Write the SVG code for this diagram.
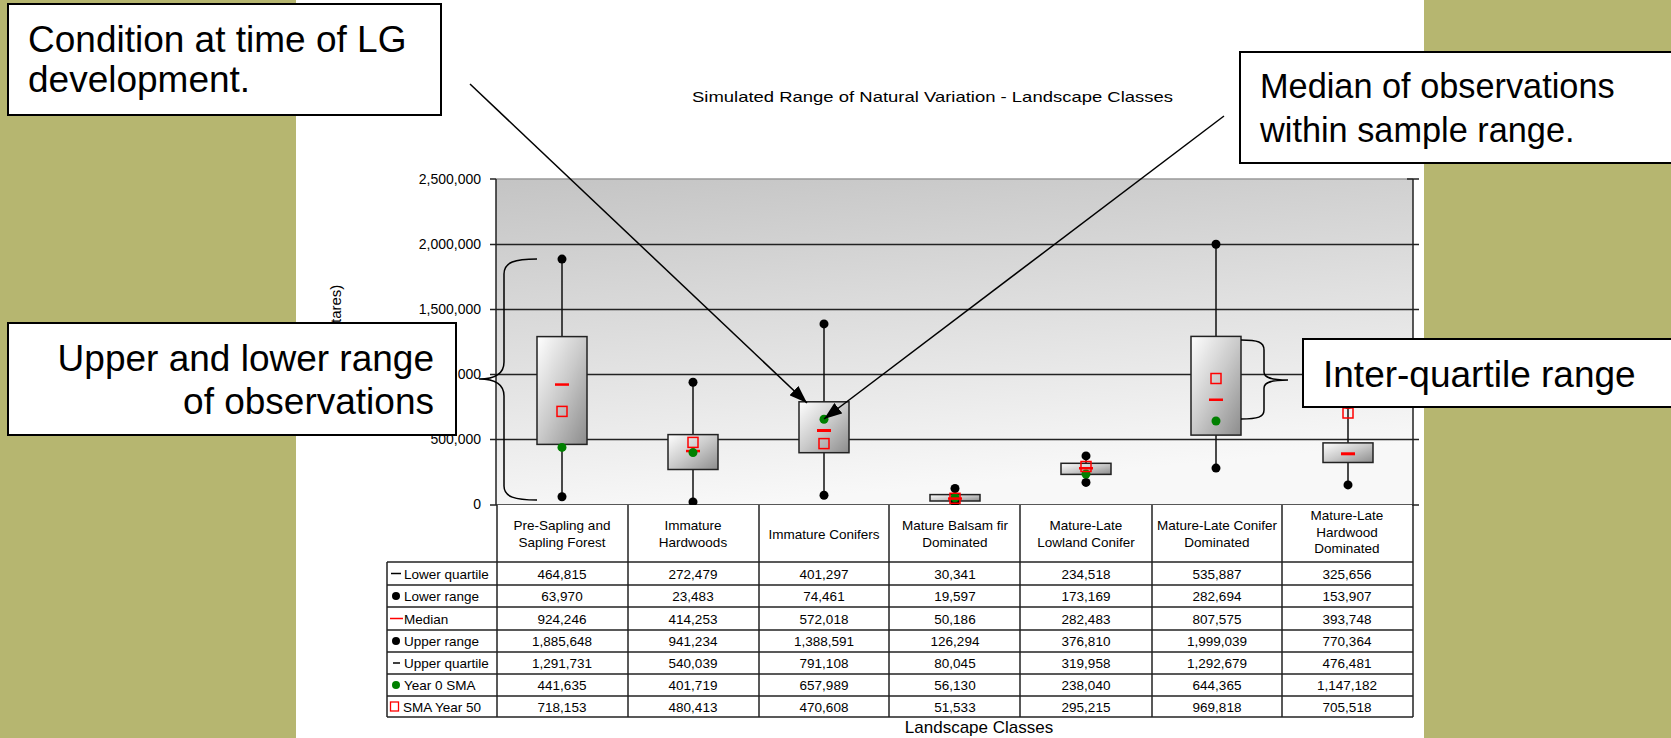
<svg xmlns="http://www.w3.org/2000/svg" width="1671" height="738" viewBox="0 0 1671 738">
<defs>
<style>
.call{fill:#fff;stroke:#000;stroke-width:2}
.ct{font-family:"Liberation Sans",Arial,sans-serif;font-size:37px;fill:#000}
.ct2{font-family:"Liberation Sans",Arial,sans-serif;font-size:34.3px;fill:#000}
.ch{font-family:"Liberation Sans",Arial,sans-serif;fill:#000}
.tv{font-family:"Liberation Sans",Arial,sans-serif;font-size:13.5px;fill:#000;text-anchor:middle}
.tl{font-family:"Liberation Sans",Arial,sans-serif;font-size:13.5px;fill:#000}
.yl{font-family:"Liberation Sans",Arial,sans-serif;font-size:14px;fill:#000;text-anchor:end}
.grid{stroke:#222;stroke-width:1.5}
.tab{stroke:#222;stroke-width:1.5;fill:none}
.wh{stroke:#111;stroke-width:1.5}
.bx{fill:url(#boxg);stroke:#222;stroke-width:1.5}
.rng{fill:#000}
.med{fill:#f00}
.y0{fill:#008000}
.y50{fill:none;stroke:#f00;stroke-width:1.5}
.con{stroke:#000;stroke-width:1.5;fill:none}
</style>
<linearGradient id="plotg" x1="0" y1="0" x2="0.25" y2="1">
<stop offset="0" stop-color="#c4c4c4"/>
<stop offset="1" stop-color="#f8f8f8"/>
</linearGradient>
<linearGradient id="boxg" x1="0" y1="0" x2="1" y2="1">
<stop offset="0" stop-color="#ffffff"/>
<stop offset="0.5" stop-color="#cacaca"/>
<stop offset="1" stop-color="#8c8c8c"/>
</linearGradient>
<marker id="arr" markerUnits="userSpaceOnUse" markerWidth="18" markerHeight="13" refX="18" refY="6.5" orient="auto">
<path d="M0,0 L18,6.5 L0,13 z" fill="#000"/>
</marker>
</defs>

<!-- background -->
<rect x="0" y="0" width="1671" height="738" fill="#ffffff"/>
<rect x="0" y="0" width="296" height="738" fill="#b6b670"/>
<rect x="1424" y="0" width="247" height="738" fill="#b6b670"/>

<g id="chart">
<text class="ch" x="692" y="102" font-size="15" textLength="481" lengthAdjust="spacingAndGlyphs">Simulated Range of Natural Variation - Landscape Classes</text>
<rect x="496" y="179" width="917" height="326" fill="url(#plotg)"/>
<line x1="496" y1="179" x2="1413" y2="179" stroke="#999" stroke-width="1.5"/>
<g class="grid">
<line x1="490" y1="244.5" x2="1419" y2="244.5"/>
<line x1="490" y1="309.5" x2="1419" y2="309.5"/>
<line x1="490" y1="374.5" x2="1419" y2="374.5"/>
<line x1="490" y1="439.5" x2="1419" y2="439.5"/>
<line x1="490" y1="505" x2="1419" y2="505"/>
<line x1="490" y1="179" x2="496" y2="179"/>
<line x1="1407" y1="179" x2="1419" y2="179"/>
<line x1="496" y1="179" x2="496" y2="505"/>
<line x1="1413" y1="179" x2="1413" y2="505"/>
</g>
<g id="ylabels">
<text class="yl" x="481" y="184">2,500,000</text>
<text class="yl" x="481" y="249">2,000,000</text>
<text class="yl" x="481" y="314">1,500,000</text>
<text class="yl" x="481" y="379">000</text>
<text class="yl" x="481" y="444">500,000</text>
<text class="yl" x="481" y="509">0</text>
</g>
<text class="ch" font-size="15" transform="translate(341,323) rotate(-90)">tares)</text>
<text class="ch" x="979" y="733" font-size="17" text-anchor="middle">Landscape Classes</text>
</g>

<g id="box1">
<line class="wh" x1="562" y1="259.1" x2="562" y2="496.7"/>
<rect class="bx" x="537" y="336.6" width="50" height="107.8"/>
<circle class="rng" cx="562" cy="259.1" r="4.5"/><circle class="rng" cx="562" cy="496.7" r="4.5"/>
<rect class="med" x="555" y="383.3" width="14" height="2.5"/>
<circle class="y0" cx="562" cy="447.4" r="4.5"/>
<rect class="y50" x="557" y="406.4" width="10" height="10"/>
</g>
<g id="box2">
<line class="wh" x1="693" y1="382.3" x2="693" y2="501.9"/>
<rect class="bx" x="668" y="434.6" width="50" height="34.9"/>
<circle class="rng" cx="693" cy="382.3" r="4.5"/><circle class="rng" cx="693" cy="501.9" r="4.5"/>
<rect class="med" x="686" y="449.8" width="14" height="2.5"/>
<circle class="y0" cx="693" cy="452.6" r="4.5"/>
<rect class="y50" x="688" y="437.4" width="10" height="10"/>
</g>
<g id="box3">
<line class="wh" x1="824" y1="323.9" x2="824" y2="495.3"/>
<rect class="bx" x="799" y="401.8" width="50" height="50.9"/>
<circle class="rng" cx="824" cy="323.9" r="4.5"/><circle class="rng" cx="824" cy="495.3" r="4.5"/>
<rect class="med" x="817" y="429" width="14" height="3"/>
<circle class="y0" cx="824" cy="419.2" r="4.5"/>
<rect class="y50" x="819" y="438.6" width="10" height="10"/>
</g>
<g id="box4">
<line class="wh" x1="955" y1="488.5" x2="955" y2="502.4"/>
<rect class="bx" x="930" y="494.6" width="50" height="6.4"/>
<circle class="rng" cx="955" cy="488.5" r="4.5"/><circle class="rng" cx="955" cy="502.4" r="4.5"/>
<circle class="y0" cx="955" cy="497.7" r="4.5"/>
<rect class="med" x="948" y="497.3" width="14" height="2.5"/>
<rect class="y50" x="950" y="493.3" width="10" height="10"/>
</g>
<g id="box5">
<line class="wh" x1="1086" y1="455.9" x2="1086" y2="482.4"/>
<rect class="bx" x="1061" y="463.3" width="50" height="11.1"/>
<circle class="rng" cx="1086" cy="455.9" r="4.5"/><circle class="rng" cx="1086" cy="482.4" r="4.5"/>
<circle class="y0" cx="1086" cy="474" r="4.5"/>
<rect class="med" x="1079" y="467" width="14" height="2.5"/>
<rect class="y50" x="1081" y="461.5" width="10" height="10"/>
</g>
<g id="box6">
<line class="wh" x1="1216" y1="244.3" x2="1216" y2="468.1"/>
<rect class="bx" x="1191" y="336.4" width="50" height="98.7"/>
<circle class="rng" cx="1216" cy="244.3" r="4.5"/><circle class="rng" cx="1216" cy="468.1" r="4.5"/>
<rect class="med" x="1209" y="398.5" width="14" height="2.5"/>
<circle class="y0" cx="1216" cy="421" r="4.5"/>
<rect class="y50" x="1211" y="373.5" width="10" height="10"/>
</g>
<g id="box7">
<line class="wh" x1="1348" y1="404.5" x2="1348" y2="484.9"/>
<rect class="bx" x="1323" y="442.9" width="50" height="19.6"/>
<circle class="rng" cx="1348" cy="404.5" r="4.5"/><circle class="rng" cx="1348" cy="484.9" r="4.5"/>
<rect class="med" x="1341" y="452.3" width="14" height="3"/>
<circle class="y0" cx="1348" cy="355.4" r="4.5"/>
<rect class="y50" x="1343" y="408" width="10" height="10"/>
</g>

<g id="table">
<rect x="387" y="562" width="1025" height="155" fill="#fff"/>
<rect x="497" y="505" width="915" height="57" fill="#fff"/>
<g class="tab">
<line x1="497" y1="505" x2="497" y2="717"/>
<line x1="628" y1="505" x2="628" y2="717"/>
<line x1="759" y1="505" x2="759" y2="717"/>
<line x1="889" y1="505" x2="889" y2="717"/>
<line x1="1020" y1="505" x2="1020" y2="717"/>
<line x1="1152" y1="505" x2="1152" y2="717"/>
<line x1="1282" y1="505" x2="1282" y2="717"/>
<line x1="1413" y1="505" x2="1413" y2="717"/>
<line x1="387" y1="562" x2="387" y2="717"/>
<line x1="387" y1="562" x2="1413" y2="562"/>
<line x1="387" y1="585" x2="1413" y2="585"/>
<line x1="387" y1="607" x2="1413" y2="607"/>
<line x1="387" y1="630" x2="1413" y2="630"/>
<line x1="387" y1="652" x2="1413" y2="652"/>
<line x1="387" y1="674" x2="1413" y2="674"/>
<line x1="387" y1="696" x2="1413" y2="696"/>
<line x1="387" y1="717" x2="1413" y2="717"/>
</g>
<text class="tv" x="562" y="530">Pre-Sapling and</text><text class="tv" x="562" y="547">Sapling Forest</text>
<text class="tv" x="693" y="530">Immature</text><text class="tv" x="693" y="547">Hardwoods</text>
<text class="tv" x="824" y="539">Immature Conifers</text>
<text class="tv" x="955" y="530">Mature Balsam fir</text><text class="tv" x="955" y="547">Dominated</text>
<text class="tv" x="1086" y="530">Mature-Late</text><text class="tv" x="1086" y="547">Lowland Conifer</text>
<text class="tv" x="1217" y="530">Mature-Late Conifer</text><text class="tv" x="1217" y="547">Dominated</text>
<text class="tv" x="1347" y="520">Mature-Late</text><text class="tv" x="1347" y="537">Hardwood</text><text class="tv" x="1347" y="553">Dominated</text>

<line x1="391" y1="573.5" x2="401" y2="573.5" stroke="#000" stroke-width="1.5"/>
<circle cx="396" cy="596" r="4" fill="#000"/>
<line x1="390" y1="618.5" x2="403" y2="618.5" stroke="#f00" stroke-width="1.5"/>
<circle cx="396" cy="641" r="4" fill="#000"/>
<line x1="393" y1="663" x2="400" y2="663" stroke="#000" stroke-width="1.5"/>
<circle cx="396" cy="685" r="4" fill="#008000"/>
<rect x="390.5" y="702" width="8" height="9" fill="none" stroke="#f00" stroke-width="1.3"/>
<text class="tl" x="404" y="578.5">Lower quartile</text>
<text class="tl" x="404" y="601">Lower range</text>
<text class="tl" x="404" y="623.5">Median</text>
<text class="tl" x="404" y="646">Upper range</text>
<text class="tl" x="404" y="668">Upper quartile</text>
<text class="tl" x="404" y="690">Year 0 SMA</text>
<text class="tl" x="403" y="711.5">SMA Year 50</text>

<g id="col1">
<text class="tv" x="562" y="578.5">464,815</text><text class="tv" x="562" y="601">63,970</text><text class="tv" x="562" y="623.5">924,246</text><text class="tv" x="562" y="646">1,885,648</text><text class="tv" x="562" y="668">1,291,731</text><text class="tv" x="562" y="690">441,635</text><text class="tv" x="562" y="711.5">718,153</text>
</g>
<g id="col2">
<text class="tv" x="693" y="578.5">272,479</text><text class="tv" x="693" y="601">23,483</text><text class="tv" x="693" y="623.5">414,253</text><text class="tv" x="693" y="646">941,234</text><text class="tv" x="693" y="668">540,039</text><text class="tv" x="693" y="690">401,719</text><text class="tv" x="693" y="711.5">480,413</text>
</g>
<g id="col3">
<text class="tv" x="824" y="578.5">401,297</text><text class="tv" x="824" y="601">74,461</text><text class="tv" x="824" y="623.5">572,018</text><text class="tv" x="824" y="646">1,388,591</text><text class="tv" x="824" y="668">791,108</text><text class="tv" x="824" y="690">657,989</text><text class="tv" x="824" y="711.5">470,608</text>
</g>
<g id="col4">
<text class="tv" x="955" y="578.5">30,341</text><text class="tv" x="955" y="601">19,597</text><text class="tv" x="955" y="623.5">50,186</text><text class="tv" x="955" y="646">126,294</text><text class="tv" x="955" y="668">80,045</text><text class="tv" x="955" y="690">56,130</text><text class="tv" x="955" y="711.5">51,533</text>
</g>
<g id="col5">
<text class="tv" x="1086" y="578.5">234,518</text><text class="tv" x="1086" y="601">173,169</text><text class="tv" x="1086" y="623.5">282,483</text><text class="tv" x="1086" y="646">376,810</text><text class="tv" x="1086" y="668">319,958</text><text class="tv" x="1086" y="690">238,040</text><text class="tv" x="1086" y="711.5">295,215</text>
</g>
<g id="col6">
<text class="tv" x="1217" y="578.5">535,887</text><text class="tv" x="1217" y="601">282,694</text><text class="tv" x="1217" y="623.5">807,575</text><text class="tv" x="1217" y="646">1,999,039</text><text class="tv" x="1217" y="668">1,292,679</text><text class="tv" x="1217" y="690">644,365</text><text class="tv" x="1217" y="711.5">969,818</text>
</g>
<g id="col7">
<text class="tv" x="1347" y="578.5">325,656</text><text class="tv" x="1347" y="601">153,907</text><text class="tv" x="1347" y="623.5">393,748</text><text class="tv" x="1347" y="646">770,364</text><text class="tv" x="1347" y="668">476,481</text><text class="tv" x="1347" y="690">1,147,182</text><text class="tv" x="1347" y="711.5">705,518</text>
</g>
</g>

<g id="callout-condition">
<rect class="call" x="8" y="4" width="433" height="111"/>
<text class="ct" x="28" y="52">Condition at time of LG</text>
<text class="ct" x="28" y="92">development.</text>
</g>
<g id="callout-median">
<rect class="call" x="1240" y="52" width="440" height="111"/>
<text class="ct2" x="1260" y="98">Median of observations</text>
<text class="ct2" x="1260" y="142">within sample range.</text>
</g>
<g id="callout-range">
<rect class="call" x="8" y="323" width="448" height="112"/>
<text class="ct" x="434" y="371" text-anchor="end">Upper and lower range</text>
<text class="ct" x="434" y="414" text-anchor="end">of observations</text>
</g>
<g id="callout-iqr">
<rect class="call" x="1303" y="339" width="380" height="68"/>
<text class="ct" x="1323" y="387">Inter-quartile range</text>
</g>

<g id="connectors">
<line class="con" x1="470" y1="84" x2="807" y2="403" marker-end="url(#arr)"/>
<line class="con" x1="1224" y1="116" x2="824" y2="419" marker-end="url(#arr)"/>
<path class="con" d="M537,259 C515,259 504,262 504,274 L504,362 C504,374 494,379 479,379 C494,379 504,384 504,396 L504,486 C504,497 515,500 537,500"/>
<path class="con" d="M1241,340 C1258,340 1264,342 1264,350 L1264,372 C1264,378 1272,380 1288,380 C1272,380 1264,382 1264,388 L1264,410 C1264,417 1258,419 1241,419"/>
</g>
</svg>
